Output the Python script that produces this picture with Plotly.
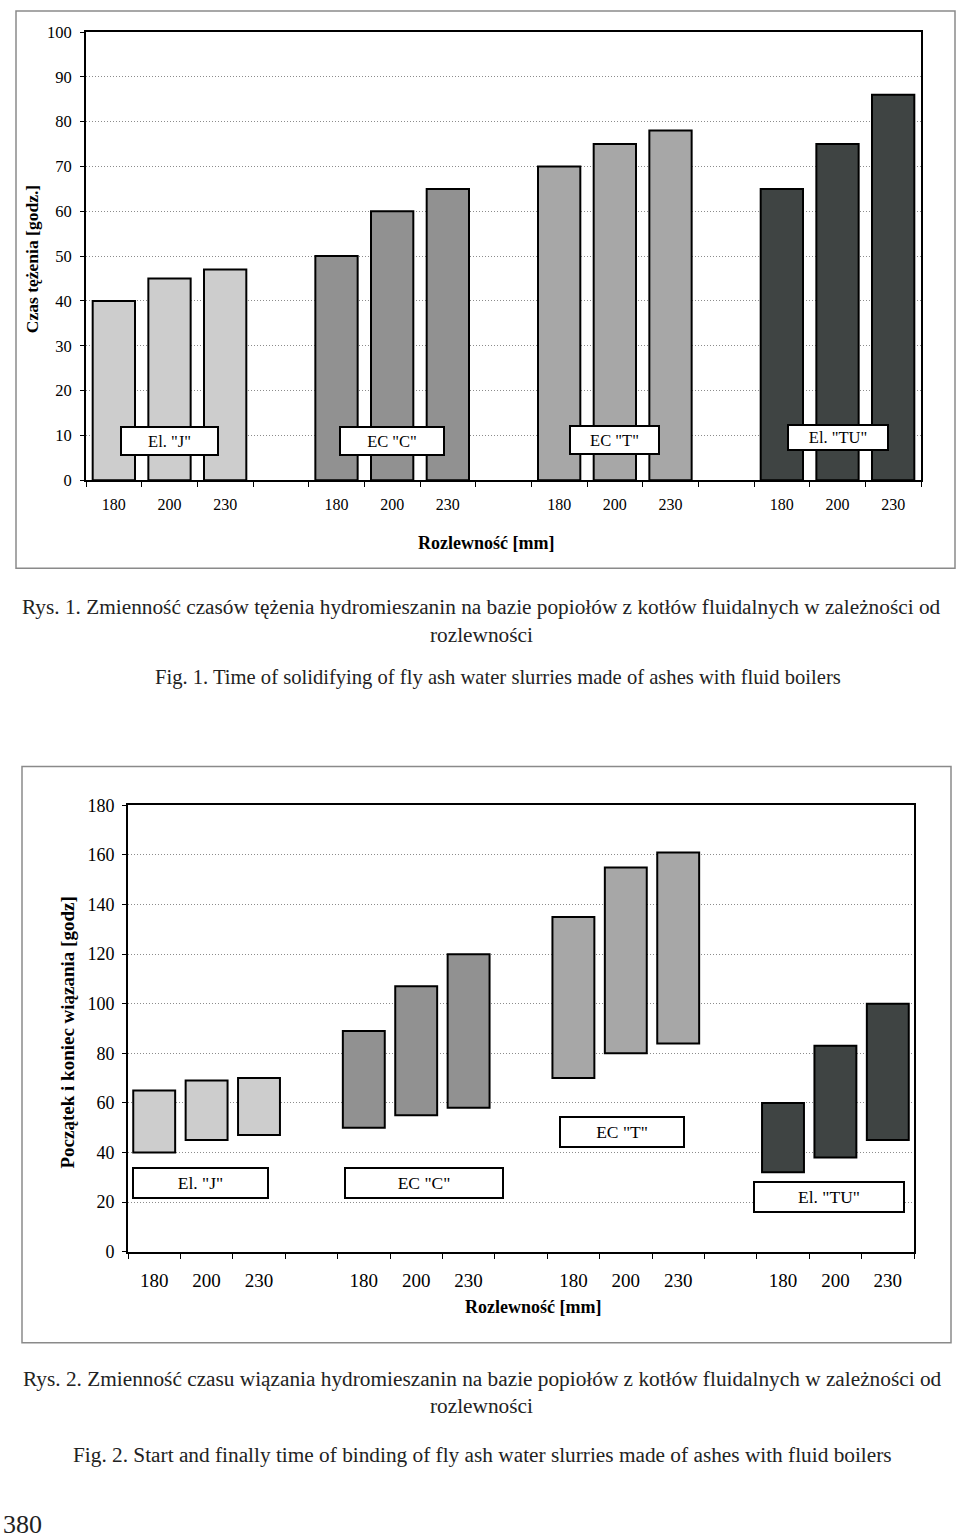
import plotly.graph_objects as go

# ---------------- data ----------------
groups = ['El. "J"', 'EC "C"', 'EC "T"', 'El. "TU"']
rozlewnosc = ["180", "200", "230"]

# Fig. 1 - czas tężenia [godz.]
tez_J = [40, 45, 47]
tez_C = [50, 60, 65]
tez_T = [70, 75, 78]
tez_TU = [65, 75, 86]

# Fig. 2 - początek / koniec wiązania [godz]
start_J = [40, 45, 47]
end_J = [65, 69, 70]
start_C = [50, 55, 58]
end_C = [89, 107, 120]
start_T = [70, 80, 84]
end_T = [135, 155, 161]
start_TU = [32, 38, 45]
end_TU = [60, 83, 100]

tezenie = [tez_J, tez_C, tez_T, tez_TU]
starts = [start_J, start_C, start_T, start_TU]
ends = [end_J, end_C, end_T, end_TU]

colors = ["#cdcdcd", "#919191", "#a7a7a7", "#3f4443"]

W, H = 960, 1538
SERIF = "Liberation Serif, Times New Roman, serif"
# empirical vertical correction for the photographed page
Y_SCALE, Y_OFF = 0.9865, 10.0


def py(p):
    p_in = max((p - Y_OFF) / Y_SCALE, 1.0)
    return 1 - p_in / H


def px(p):
    return p / W


fig = go.Figure()

slot_positions = []
for gi, g in enumerate(groups):
    xs = [gi * 4 + j for j in range(len(rozlewnosc))]
    slot_positions.extend(xs)
    fig.add_trace(go.Bar(
        x=xs, y=tezenie[gi], name=g, width=0.76,
        marker=dict(color=colors[gi], line=dict(color="black", width=2)),
        xaxis="x", yaxis="y", hoverinfo="skip"))
    fig.add_trace(go.Bar(
        x=xs, y=[e - s for s, e in zip(starts[gi], ends[gi])], base=starts[gi],
        name=g, width=0.8,
        marker=dict(color=colors[gi], line=dict(color="black", width=2)),
        xaxis="x2", yaxis="y2", hoverinfo="skip"))

ticktext = rozlewnosc * len(groups)
n_slots = len(groups) * 4 - 1
boundaries = [i - 0.5 for i in range(n_slots + 1)]


def xaxis_cfg(domain, anchor, fsize, standoff):
    return dict(
        domain=domain, anchor=anchor, range=[-0.5, n_slots - 0.5],
        tickmode="array", tickvals=slot_positions, ticktext=ticktext,
        ticks="", showgrid=False, zeroline=False,
        showline=True, mirror=True, linecolor="black", linewidth=2,
        tickfont=dict(family=SERIF, size=fsize, color="black"),
        ticklabelstandoff=standoff,
        minor=dict(tickmode="array", tickvals=boundaries, ticks="outside",
                   ticklen=5, tickwidth=1, tickcolor="black", showgrid=False),
    )


def yaxis_cfg(domain, anchor, rng, dtick, fsize, standoff):
    return dict(
        domain=domain, anchor=anchor, range=rng, tick0=0, dtick=dtick,
        ticks="outside", ticklen=4, tickcolor="black", tickwidth=1,
        showgrid=True, gridcolor="#8c8c8c", griddash="1px,2px", gridwidth=1,
        zeroline=False, showline=True, mirror=True, linecolor="black",
        linewidth=2,
        tickfont=dict(family=SERIF, size=fsize, color="black"),
        ticklabelstandoff=standoff,
    )


fig.update_layout(
    width=W, height=H, margin=dict(l=0, r=0, t=0, b=0),
    paper_bgcolor="white", plot_bgcolor="white",
    showlegend=False, barmode="overlay",
    xaxis=xaxis_cfg([px(86), px(921)], "y", 16, 9),
    yaxis=yaxis_cfg([py(480), py(32)], "x", [0, 100], 10, 16.5, 5),
    xaxis2=xaxis_cfg([px(128), px(914)], "y2", 19, 11),
    yaxis2=yaxis_cfg([py(1251), py(805)], "x2", [0, 180], 20, 18, 4),
)

shapes = [
    dict(type="rect", xref="paper", yref="paper",
         x0=px(16), x1=px(955), y0=py(568), y1=py(4),
         line=dict(color="#8a8a8a", width=1.5), layer="below"),
    dict(type="rect", xref="paper", yref="paper",
         x0=px(22), x1=px(951), y0=py(1342), y1=py(766),
         line=dict(color="#8a8a8a", width=1.5), layer="below"),
]
fig.update_layout(shapes=shapes)

ann = []

# group label boxes (chart 1)
box1_dx = [0.0, 0.0, 0.0, 0.0]
box1_y = [8.7, 8.7, 9.0, 9.5]
box1_w = [97, 104, 89, 100]
box1_h = [28, 28, 28, 25]
for gi, g in enumerate(groups):
    ann.append(dict(
        x=gi * 4 + 1 + box1_dx[gi], y=box1_y[gi], xref="x", yref="y",
        xanchor="center", yanchor="middle",
        text=g, showarrow=False, width=box1_w[gi] - 2, height=box1_h[gi] - 2,
        bgcolor="white", bordercolor="black", borderwidth=2, borderpad=0,
        font=dict(family=SERIF, size=16.5, color="black")))

# group label boxes (chart 2)
box2_dx = [-0.12, 0.15, -0.07, -0.12]
box2_y = [27.7, 27.5, 48.3, 22.1]
box2_w = [135, 158, 124, 150]
box2_h = [30, 30, 30, 30]
for gi, g in enumerate(groups):
    ann.append(dict(
        x=gi * 4 + 1 + box2_dx[gi], y=box2_y[gi], xref="x2", yref="y2",
        xanchor="center", yanchor="middle",
        text=g, showarrow=False, width=box2_w[gi] - 2, height=box2_h[gi] - 2,
        bgcolor="white", bordercolor="black", borderwidth=2, borderpad=0,
        font=dict(family=SERIF, size=17.5, color="black")))


def paper_text(text, cx, cy, size, angle=0, color="black", xanchor="center"):
    return dict(x=px(cx), y=py(cy), xref="paper", yref="paper", text=text,
                textangle=angle, showarrow=False, xanchor=xanchor,
                yanchor="middle",
                font=dict(family=SERIF, size=size, color=color))


# axis titles
ann.append(paper_text("<b>Czas tężenia [godz.]</b>", 32, 259, 17.5, -90))
ann.append(paper_text("<b>Rozlewność [mm]</b>", 486, 543, 18))
ann.append(paper_text("<b>Początek i koniec wiązania [godz]</b>", 68, 1032, 19, -90))
ann.append(paper_text("<b>Rozlewność [mm]</b>", 533, 1306, 18))

# captions
captions = [
    ("Rys. 1. Zmienność czasów tężenia hydromieszanin na bazie popiołów z kotłów fluidalnych w zależności od", 481, 607, 21.3),
    ("rozlewności", 481, 635, 21.3),
    ("Fig. 1. Time of solidifying of fly ash water slurries made of ashes with fluid boilers", 498, 677, 20.6),
    ("Rys. 2. Zmienność czasu wiązania hydromieszanin na bazie popiołów z kotłów fluidalnych w zależności od", 482, 1378, 21.3),
    ("rozlewności", 481, 1405, 21.3),
    ("Fig. 2. Start and finally time of binding of fly ash water slurries made of ashes with fluid boilers", 482, 1454, 21.3),
]
for txt, cx, cy, fs in captions:
    ann.append(paper_text(txt, cx, cy, fs, color="#222"))

ann.append(paper_text("380", 1, 1524, 26, color="#222", xanchor="left"))

fig.update_layout(annotations=ann)

fig.write_html("out.html",
               config={"displayModeBar": False},
               post_script="document.body.style.margin='0';")
